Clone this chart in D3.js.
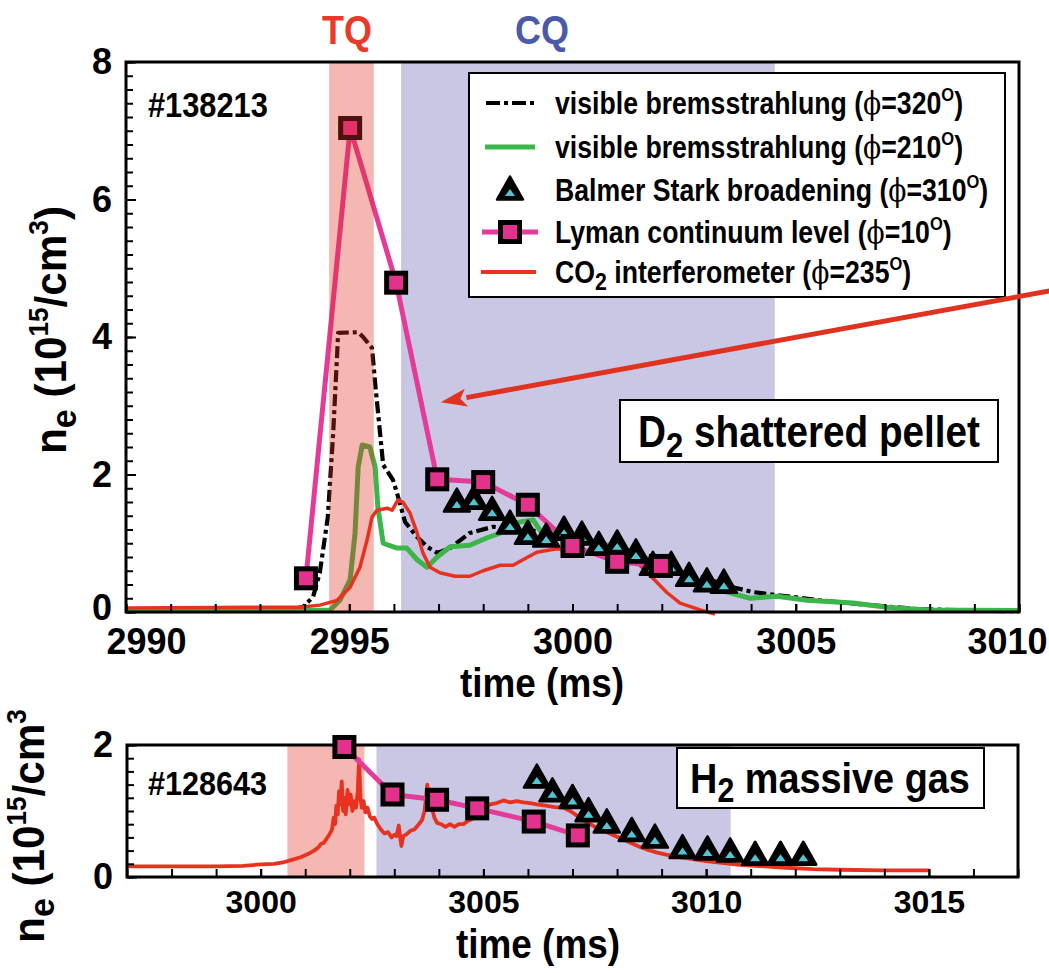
<!DOCTYPE html>
<html>
<head>
<meta charset="utf-8">
<script src="https://cdn.jsdelivr.net/npm/d3@7"></script>
<style>
  body { margin: 0; background: #fff; }
  svg { display: block; }
  text { font-family: "Liberation Sans", Arial, Helvetica, sans-serif; font-weight: bold; }
</style>
</head>
<body>
<svg id="chart" width="1049" height="973"></svg>
<script>
// ---------------- shot #138213 : D2 shattered pellet ----------------
const topXTicks = [2990, 2995, 3000, 3005, 3010];
const topYTicks = [0, 2, 4, 6, 8];
const tqBandTop = [2994.55, 2995.55];
const cqBandTop = [2996.16, 3004.53];

// visible bremsstrahlung, phi = 320 deg
const brems320 = [
  [2990, 0.04], [2993.67, 0.04], [2993.96, 0.07], [2994.19, 0.22], [2994.34, 0.57],
  [2994.52, 1.38], [2994.64, 2.6], [2994.73, 3.77], [2994.75, 4.06], [2995.2, 4.07],
  [2995.31, 4.0], [2995.51, 3.84], [2995.58, 3.33], [2995.69, 2.6], [2995.76, 2.14],
  [2995.98, 1.92], [2996.07, 1.73], [2996.25, 1.31], [2996.52, 1.09], [2996.74, 0.95],
  [2996.97, 0.86], [2997.26, 0.93], [2997.7, 1.15], [2998.22, 1.24], [2998.53, 1.22],
  [2999.05, 1.19], [2999.72, 1.12], [3000.39, 1.05], [3001.06, 0.93], [3001.74, 0.76],
  [3002.41, 0.58], [3003.08, 0.47], [3003.59, 0.36], [3004.04, 0.29], [3004.53, 0.25],
  [3005.54, 0.17], [3006.66, 0.1], [3007.78, 0.04], [3010, 0.01]
];

// visible bremsstrahlung, phi = 210 deg
const brems210 = [
  [2990, 0.02], [2993.9, 0.02], [2994.57, 0.03], [2994.79, 0.17], [2995.02, 0.47],
  [2995.13, 1.15], [2995.2, 2.11], [2995.29, 2.43], [2995.46, 2.4], [2995.58, 2.11],
  [2995.64, 1.53], [2995.76, 1.0], [2996.07, 0.93], [2996.29, 0.93], [2996.52, 0.76],
  [2996.74, 0.65], [2996.97, 0.8], [2997.26, 0.95], [2997.7, 0.97], [2998.09, 1.08],
  [2998.44, 1.16], [2998.82, 1.31], [2999.12, 1.34], [2999.27, 1.19], [2999.72, 1.09],
  [3000.32, 1.05], [3001.06, 0.93], [3001.74, 0.76], [3002.41, 0.57], [3003.08, 0.39],
  [3003.46, 0.29], [3003.98, 0.2], [3004.58, 0.23], [3005.25, 0.17], [3006.28, 0.13],
  [3007.04, 0.07], [3007.94, 0.03], [3010, 0.02]
];

// CO2 interferometer, phi = 235 deg
const co2Top = [
  [2990, 0.06], [2993.9, 0.07], [2994.34, 0.1], [2994.73, 0.17], [2995.02, 0.36],
  [2995.24, 0.65], [2995.4, 1.05], [2995.51, 1.38], [2995.62, 1.48], [2995.85, 1.51],
  [2995.96, 1.48], [2996.09, 1.63], [2996.2, 1.6], [2996.36, 1.44], [2996.52, 1.15],
  [2996.65, 0.86], [2996.81, 0.65], [2997.03, 0.57], [2997.37, 0.52], [2997.7, 0.52],
  [2998.0, 0.6], [2998.38, 0.68], [2998.67, 0.68], [2998.89, 0.76], [2999.2, 0.87],
  [2999.65, 0.92], [3000.01, 0.9], [3000.62, 0.86], [3001.22, 0.79], [3001.51, 0.68],
  [3001.8, 0.49], [3002.12, 0.28], [3002.41, 0.13], [3002.86, 0.03], [3003.19, -0.03]
];

// Balmer Stark broadening, phi = 310 deg
const starkTop = [
  [2997.41, 1.6], [2997.79, 1.64], [2998.2, 1.48], [2998.6, 1.28], [2999.0, 1.13],
  [2999.41, 1.09], [2999.81, 1.19], [3000.21, 1.12], [3000.59, 0.97], [3001.0, 0.99],
  [3001.42, 0.86], [3001.8, 0.68], [3002.21, 0.68], [3002.61, 0.52], [3003.01, 0.44],
  [3003.39, 0.42]
];

// Lyman continuum level, phi = 10 deg
const lymanTop = [
  [2994.03, 0.49], [2995.02, 7.04], [2996.05, 4.79], [2996.97, 1.93], [2998.0, 1.89],
  [2999.0, 1.56], [3000.0, 0.96], [3001.0, 0.73], [3001.98, 0.67]
];

// ---------------- shot #128643 : H2 massive gas ----------------
const bottomXTicks = [3000, 3005, 3010, 3015];
const bottomYTicks = [0, 2];
const tqBandBottom = [3000.6, 3002.33];
const cqBandBottom = [3002.6, 3010.55];

const lymanBottom = [
  [3001.88, 1.97], [3002.96, 1.25], [3003.96, 1.17], [3004.86, 1.04], [3006.13, 0.84],
  [3007.12, 0.63]
];

const starkBottom = [
  [3006.2, 1.5], [3006.55, 1.29], [3007.0, 1.19], [3007.36, 0.99], [3007.77, 0.82],
  [3008.33, 0.69], [3008.85, 0.59], [3009.47, 0.43], [3010.03, 0.41], [3010.54, 0.38],
  [3011.1, 0.33], [3011.67, 0.33], [3012.18, 0.33]
];

const co2Bottom = [
  [2997.0, 0.16], [2998.0, 0.16], [2999.0, 0.16], [2999.6, 0.17], [3000.0, 0.19],
  [3000.3, 0.2], [3000.5, 0.22], [3000.7, 0.26], [3000.9, 0.3], [3001.0, 0.33],
  [3001.1, 0.36], [3001.2, 0.4], [3001.3, 0.45], [3001.35, 0.5], [3001.42, 0.52],
  [3001.5, 0.6], [3001.55, 0.65], [3001.6, 0.72], [3001.64, 0.9], [3001.67, 0.8],
  [3001.7, 1.08], [3001.73, 0.95], [3001.76, 1.3], [3001.79, 1.1], [3001.82, 1.45],
  [3001.85, 1.0], [3001.88, 1.2], [3001.91, 0.95], [3001.95, 1.32], [3001.98, 1.1],
  [3002.02, 1.25], [3002.06, 1.0], [3002.1, 1.15], [3002.14, 1.05], [3002.18, 1.3],
  [3002.21, 1.78], [3002.24, 1.2], [3002.27, 1.05], [3002.31, 1.15], [3002.35, 0.98],
  [3002.4, 1.05], [3002.45, 0.92], [3002.5, 0.88], [3002.55, 0.9], [3002.62, 0.8],
  [3002.7, 0.72], [3002.78, 0.66], [3002.86, 0.68], [3002.94, 0.6], [3003.0, 0.64],
  [3003.05, 0.62], [3003.1, 0.78], [3003.13, 0.6], [3003.16, 0.47], [3003.2, 0.62],
  [3003.28, 0.65], [3003.36, 0.7], [3003.45, 0.72], [3003.55, 0.8], [3003.62, 0.86],
  [3003.68, 1.0], [3003.74, 1.4], [3003.78, 1.2], [3003.82, 1.1], [3003.86, 1.0],
  [3003.9, 0.9], [3003.96, 0.82], [3004.05, 0.8], [3004.15, 0.76], [3004.25, 0.8],
  [3004.35, 0.76], [3004.45, 0.8], [3004.55, 0.8], [3004.65, 0.85], [3004.75, 0.88],
  [3004.85, 0.95], [3004.95, 1.0], [3005.05, 1.05], [3005.15, 1.1], [3005.3, 1.12],
  [3005.45, 1.16], [3005.6, 1.13], [3005.75, 1.15], [3005.9, 1.13], [3006.05, 1.12],
  [3006.2, 1.1], [3006.4, 1.08], [3006.6, 1.06], [3006.8, 1.05], [3006.95, 1.0],
  [3007.1, 0.93], [3007.25, 0.85], [3007.4, 0.8], [3007.55, 0.74], [3007.7, 0.7],
  [3007.9, 0.64], [3008.1, 0.58], [3008.3, 0.52], [3008.5, 0.46], [3008.7, 0.41],
  [3008.9, 0.37], [3009.1, 0.34], [3009.4, 0.3], [3009.7, 0.27], [3010.0, 0.24],
  [3010.4, 0.21], [3010.8, 0.18], [3011.3, 0.16], [3011.8, 0.14], [3012.4, 0.12],
  [3013.0, 0.11], [3014.0, 0.1], [3015.0, 0.1]
];

// legend entries: text segments, 0 = normal, 1 = superscript, -1 = subscript, 2 = phi glyph
const legendLabels = [
  [["visible bremsstrahlung (", 0], ["\u03D5", 2], ["=320", 0], ["O", 1], [")", 0]],
  [["visible bremsstrahlung (", 0], ["\u03D5", 2], ["=210", 0], ["O", 1], [")", 0]],
  [["Balmer Stark broadening (", 0], ["\u03D5", 2], ["=310", 0], ["O", 1], [")", 0]],
  [["Lyman continuum level (", 0], ["\u03D5", 2], ["=10", 0], ["O", 1], [")", 0]],
  [["CO", 0], ["2", -1], [" interferometer (", 0], ["\u03D5", 2], ["=235", 0], ["O", 1], [")", 0]]
];
const yLabelTop = [["n", 0], ["e", -1], [" (10", 0], ["15", 1], ["/cm", 0], ["3", 1], [")", 0]];
const yLabelBottom = [["n", 0], ["e", -1], [" (10", 0], ["15", 1], ["/cm", 0], ["3", 1]];

const C = {
  black: "#000",
  green: "#3cb54a",
  red: "#e8321f",
  pink: "#e43a9a",
  squareFill: "#e2328c",
  cyan: "#4fc6d2",
  cq: "#c9c7e3",
  tq: "rgb(226,49,32)",
  tqSolid: "#f5b7b1",
  arrow: "#e0321f"
};

const svg = d3.select("#chart");

// ---------- helpers ----------
function richText(parent, segs, fs, opts) {
  const o = Object.assign({ x: 0, y: 0, sx: 1, anchor: "start", rotate: 0, fill: "#000" }, opts || {});
  const t = parent.append("text")
    .attr("transform", `translate(${o.x},${o.y}) rotate(${o.rotate}) scale(${o.sx},1)`)
    .attr("text-anchor", o.anchor)
    .attr("font-size", fs)
    .attr("fill", o.fill);
  let shift = 0;
  segs.forEach(([str, kind]) => {
    let target = 0, size = fs;
    if (kind === 1) { target = -0.42 * fs; size = fs * 0.62; }
    if (kind === -1) { target = 0.22 * fs; size = fs * 0.8; }
    const ts = t.append("tspan").text(str).attr("font-size", size).attr("dy", target - shift);
    if (kind === 2) ts.attr("font-weight", "normal").attr("font-family", "DejaVu Serif, serif");
    shift = target;
  });
  return t;
}

function drawSquares(g, pts, x, y, size) {
  const s = size || 19;
  g.append("g").selectAll("rect").data(pts).join("rect")
    .attr("x", d => x(d[0]) - s / 2).attr("y", d => y(d[1]) - s / 2)
    .attr("width", s).attr("height", s)
    .attr("fill", C.squareFill).attr("stroke", C.black).attr("stroke-width", 5);
}

const triOuter = "M0,-13.5L13,9.5L-13,9.5Z";
const triInner = "M0,-1L5,6L-5,6Z";
function drawTriangles(g, pts, x, y) {
  const tg = g.append("g").selectAll("g").data(pts).join("g")
    .attr("transform", d => `translate(${x(d[0])},${y(d[1])})`);
  tg.append("path").attr("d", triOuter).attr("fill", C.black)
    .attr("stroke", C.black).attr("stroke-width", 2.5).attr("stroke-linejoin", "round");
  tg.append("path").attr("d", triInner).attr("fill", C.cyan);
}

function styleAxis(g, fs) {
  g.select(".domain").remove();
  g.selectAll(".tick line").attr("stroke", "#000").attr("stroke-width", 2);
  g.selectAll(".tick text").attr("font-size", fs).attr("fill", "#000")
    .attr("font-family", '"Liberation Sans", Arial, sans-serif').attr("font-weight", "bold");
  return g;
}

// ================= TOP PANEL =================
const x1 = d3.scaleLinear().domain([2990, 3010]).range([126, 1019]);
const y1 = d3.scaleLinear().domain([0, 8]).range([612, 62]);
const topPanel = svg.append("g");

// current quench band (behind the traces)
topPanel.append("rect")
  .attr("x", x1(cqBandTop[0])).attr("width", x1(cqBandTop[1]) - x1(cqBandTop[0]))
  .attr("y", y1(8)).attr("height", y1(0) - y1(8)).attr("fill", C.cq);

const line1 = d3.line().x(d => x1(d[0])).y(d => y1(d[1]));

topPanel.append("path").datum(brems320).attr("d", line1).attr("fill", "none")
  .attr("stroke", C.black).attr("stroke-width", 4.2).attr("stroke-dasharray", "12,4,4,4")
  .attr("stroke-linejoin", "round");
topPanel.append("path").datum(brems210).attr("d", line1).attr("fill", "none")
  .attr("stroke", C.green).attr("stroke-width", 5).attr("stroke-linejoin", "round");
topPanel.append("path").datum(co2Top).attr("d", line1).attr("fill", "none")
  .attr("stroke", C.red).attr("stroke-width", 3.5).attr("stroke-linejoin", "round");
topPanel.append("path").datum(lymanTop).attr("d", line1).attr("fill", "none")
  .attr("stroke", C.pink).attr("stroke-width", 5).attr("stroke-linejoin", "round");
drawTriangles(topPanel, starkTop, x1, y1);
drawSquares(topPanel, lymanTop, x1, y1);

// thermal quench band, translucent over the traces
topPanel.append("rect")
  .attr("x", x1(tqBandTop[0])).attr("width", x1(tqBandTop[1]) - x1(tqBandTop[0]))
  .attr("y", y1(8)).attr("height", y1(0) - y1(8)).attr("fill", C.tq).attr("fill-opacity", 0.35);

// axes
const xMinor1 = d3.axisBottom(x1).tickValues(d3.range(2990, 3011, 1)).tickSize(-8).tickFormat("");
styleAxis(topPanel.append("g").attr("transform", `translate(0,${y1(0)})`).call(xMinor1), 36);
const xMajor1 = d3.axisBottom(x1).tickValues(topXTicks).tickSize(-8).tickPadding(16).tickFormat(d3.format("d"));
const xMajor1G = styleAxis(topPanel.append("g").attr("transform", `translate(0,${y1(0)})`).call(xMajor1), 36);
// the first label is nudged clear of the "0" and the last one sits against the page edge
xMajor1G.selectAll(".tick text").filter(d => d === 2990).attr("x", 20);
xMajor1G.selectAll(".tick text").filter(d => d === 3010).attr("text-anchor", "end").attr("x", 1047 - x1(3010));
const yMinor1 = d3.axisLeft(y1).tickValues(d3.range(0, 8.01, 0.2)).tickSize(-7).tickFormat("");
styleAxis(topPanel.append("g").attr("transform", `translate(${x1(2990)},0)`).call(yMinor1), 36);
const yMajor1 = d3.axisLeft(y1).tickValues(topYTicks).tickSize(-10).tickPadding(14).tickFormat(d3.format("d"));
const yMajor1G = styleAxis(topPanel.append("g").attr("transform", `translate(${x1(2990)},0)`).call(yMajor1), 36);
yMajor1G.selectAll(".tick text").filter(d => d === 0).attr("dy", "0.2em");

topPanel.append("rect").attr("x", x1(2990)).attr("y", y1(8))
  .attr("width", x1(3010) - x1(2990)).attr("height", y1(0) - y1(8))
  .attr("fill", "none").attr("stroke", "#000").attr("stroke-width", 3);

// legend
const lg = topPanel.append("g");
lg.append("rect").attr("x", 469).attr("y", 73).attr("width", 536).attr("height", 224)
  .attr("fill", "#fff").attr("stroke", "#000").attr("stroke-width", 2);
const rowY = [103, 147, 190, 232, 272];
lg.append("line").attr("x1", 486).attr("x2", 534).attr("y1", rowY[0]).attr("y2", rowY[0])
  .attr("stroke", C.black).attr("stroke-width", 4).attr("stroke-dasharray", "14,4,4,4");
lg.append("line").attr("x1", 485).attr("x2", 535).attr("y1", rowY[1]).attr("y2", rowY[1])
  .attr("stroke", C.green).attr("stroke-width", 5);
drawTriangles(lg, [[0, 0]], () => 510, () => rowY[2]);
lg.append("line").attr("x1", 482).attr("x2", 538).attr("y1", rowY[3]).attr("y2", rowY[3])
  .attr("stroke", C.pink).attr("stroke-width", 5);
drawSquares(lg, [[0, 0]], () => 510, () => rowY[3]);
lg.append("line").attr("x1", 481).attr("x2", 536).attr("y1", rowY[4]).attr("y2", rowY[4])
  .attr("stroke", C.red).attr("stroke-width", 4);
legendLabels.forEach((segs, i) => {
  richText(lg, segs, 31, { x: 555, y: rowY[i] + 11, sx: 0.86 });
});

// shot number and label box
richText(topPanel, [["#138213", 0]], 35, { x: 148, y: 117, sx: 0.88 });
topPanel.append("rect").attr("x", 620).attr("y", 400).attr("width", 378).attr("height", 62)
  .attr("fill", "#fff").attr("stroke", "#000").attr("stroke-width", 2);
richText(topPanel, [["D", 0], ["2", -1], [" shattered pellet", 0]], 45, { x: 809, y: 447, sx: 0.86, anchor: "middle" });

// arrow pointing at the Lyman trace
const arrowFrom = [3010.68, 4.67], arrowTo = [2997.05, 3.05];
{
  const ax0 = x1(arrowFrom[0]), ay0 = y1(arrowFrom[1]);
  const ax1 = x1(arrowTo[0]), ay1 = y1(arrowTo[1]);
  const ang = Math.atan2(ay1 - ay0, ax1 - ax0);
  const hl = 26, hw = 9;
  const bx = ax1 - hl * Math.cos(ang), by = ay1 - hl * Math.sin(ang);
  topPanel.append("line").attr("x1", ax0).attr("y1", ay0).attr("x2", bx).attr("y2", by)
    .attr("stroke", C.arrow).attr("stroke-width", 5);
  const px = -Math.sin(ang), py = Math.cos(ang);
  topPanel.append("path")
    .attr("d", `M${ax1},${ay1}L${bx + hw * px},${by + hw * py}L${bx + 6 * Math.cos(ang)},${by + 6 * Math.sin(ang)}L${bx - hw * px},${by - hw * py}Z`)
    .attr("fill", C.arrow);
}

// phase labels
richText(svg, [["TQ", 0]], 40, { x: 347, y: 44, sx: 0.9, anchor: "middle", fill: "#e8392b" });
richText(svg, [["CQ", 0]], 40, { x: 542, y: 44, sx: 0.9, anchor: "middle", fill: "#4a5aa8" });

// axis titles
richText(svg, [["time (ms)", 0]], 41, { x: 542, y: 697, sx: 0.9, anchor: "middle" });
richText(svg, yLabelTop, 44, { x: 66, y: 330, rotate: -90, sx: 0.96, anchor: "middle" });

// ================= BOTTOM PANEL =================
const x2 = d3.scaleLinear().domain([2997, 3017]).range([127, 1018]);
const y2 = d3.scaleLinear().domain([0, 2]).range([877, 745]);
const botPanel = svg.append("g");

botPanel.append("rect")
  .attr("x", x2(tqBandBottom[0])).attr("width", x2(tqBandBottom[1]) - x2(tqBandBottom[0]))
  .attr("y", y2(2)).attr("height", y2(0) - y2(2)).attr("fill", C.tqSolid);
botPanel.append("rect")
  .attr("x", x2(cqBandBottom[0])).attr("width", x2(cqBandBottom[1]) - x2(cqBandBottom[0]))
  .attr("y", y2(2)).attr("height", y2(0) - y2(2)).attr("fill", C.cq);

const line2 = d3.line().x(d => x2(d[0])).y(d => y2(d[1]));
botPanel.append("path").datum(co2Bottom).attr("d", line2).attr("fill", "none")
  .attr("stroke", C.red).attr("stroke-width", 3.8).attr("stroke-linejoin", "round");
botPanel.append("path").datum(lymanBottom).attr("d", line2).attr("fill", "none")
  .attr("stroke", C.pink).attr("stroke-width", 5).attr("stroke-linejoin", "round");

const xMinor2 = d3.axisBottom(x2).tickValues(d3.range(2997, 3018, 1)).tickSize(-8).tickFormat("");
styleAxis(botPanel.append("g").attr("transform", `translate(0,${y2(0)})`).call(xMinor2), 30);
const xMajor2 = d3.axisBottom(x2).tickValues(bottomXTicks).tickSize(-8).tickPadding(13).tickFormat(d3.format("d"));
styleAxis(botPanel.append("g").attr("transform", `translate(0,${y2(0)})`).call(xMajor2), 32);
const yMinor2 = d3.axisLeft(y2).tickValues(d3.range(0, 2.01, 0.2)).tickSize(-7).tickFormat("");
styleAxis(botPanel.append("g").attr("transform", `translate(${x2(2997)},0)`).call(yMinor2), 36);
const yMajor2 = d3.axisLeft(y2).tickValues(bottomYTicks).tickSize(-10).tickPadding(14).tickFormat(d3.format("d"));
styleAxis(botPanel.append("g").attr("transform", `translate(${x2(2997)},0)`).call(yMajor2), 36);

botPanel.append("rect").attr("x", x2(2997)).attr("y", y2(2))
  .attr("width", x2(3017) - x2(2997)).attr("height", y2(0) - y2(2))
  .attr("fill", "none").attr("stroke", "#000").attr("stroke-width", 3);

botPanel.append("rect").attr("x", 677).attr("y", 748).attr("width", 307).attr("height", 60)
  .attr("fill", "#fff").attr("stroke", "#000").attr("stroke-width", 2);
richText(botPanel, [["H", 0], ["2", -1], [" massive gas", 0]], 43, { x: 830, y: 793, sx: 0.88, anchor: "middle" });

drawTriangles(botPanel, starkBottom, x2, y2);
drawSquares(botPanel, lymanBottom, x2, y2);

richText(botPanel, [["#128643", 0]], 34, { x: 148, y: 795, sx: 0.9 });
richText(svg, [["time (ms)", 0]], 41, { x: 538, y: 958, sx: 0.9, anchor: "middle" });
richText(svg, yLabelBottom, 44, { x: 44, y: 826, rotate: -90, sx: 0.96, anchor: "middle" });
</script>
</body>
</html>
